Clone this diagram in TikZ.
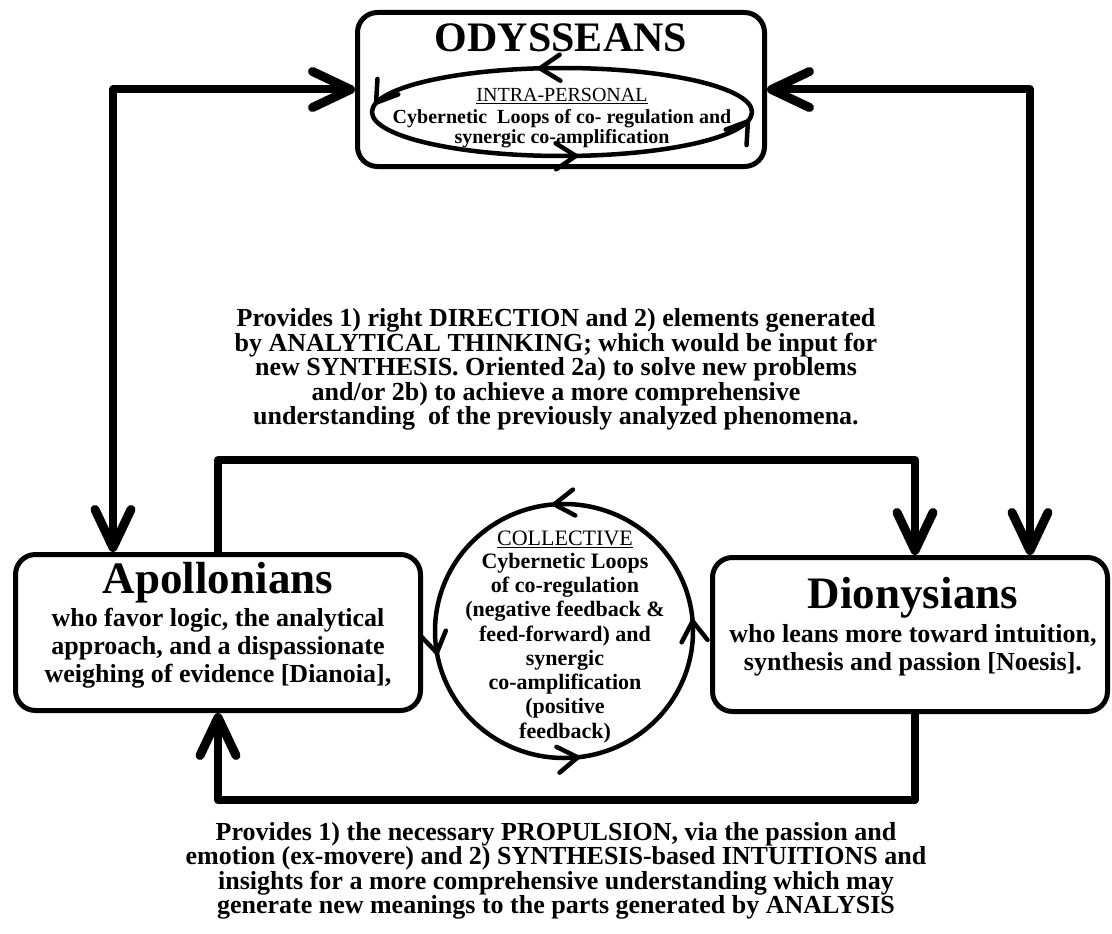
\documentclass[tikz,border=0pt]{standalone}
\usepackage{fontspec}
\setmainfont{Liberation Serif}
\usetikzlibrary{arrows.meta,decorations.markings,calc}
\tikzset{
  bigtip/.tip={Straight Barb[length=38pt,width=36pt,line width=9pt,round]},
  smalltip/.tip={Straight Barb[length=20pt,width=26pt,line width=4.5pt,round]},
}
\begin{document}
\begin{tikzpicture}[x=1pt,y=-1pt,
  box/.style={draw,line width=5pt,rounded corners=20pt,inner sep=0pt},
  conn/.style={line width=8pt,line join=round},
  loopline/.style={line width=4.5pt},
  txt/.style={inner sep=0pt,align=center},
  para/.style={txt,font=\fontsize{26pt}{24.5pt}\selectfont\bfseries},
]
\useasboundingbox (0,0) rectangle (1112,934);

% boxes
\node[box,minimum width=407pt,minimum height=154pt] (ody) at (561,89.5) {};
\node[box,minimum width=405pt,minimum height=156pt] (apo) at (218,632.5) {};
\node[box,minimum width=395pt,minimum height=154pt] (dio) at (910,634.5) {};

% connectors
\coordinate (cL) at (113,89.5);
\coordinate (cR) at (1030,89.5);
\coordinate (cT) at (915,460);
\coordinate (cB) at (915,800);
\draw[conn,bigtip-bigtip] (ody.west) -- (cL) -- (cL |- apo.north);
\draw[conn,bigtip-bigtip] (ody.east) -- (cR) -- (cR |- dio.north);
\draw[conn,-bigtip] (apo.north) -- (apo.north |- cT) -- (cT) -- (cT |- dio.north);
\draw[conn,-bigtip] (cB |- dio.south) -- (cB) -- (cB -| apo.south) -- (apo.south);

% intra-personal loop
\draw[loopline,postaction={decorate},decoration={markings,
  mark=at position 0.03 with {\arrow{smalltip}},
  mark=at position 0.24 with {\arrow{smalltip}},
  mark=at position 0.52 with {\arrow{smalltip}},
  mark=at position 0.74 with {\arrow{smalltip}}}]
  (562,68) arc[start angle=90,end angle=450,x radius=190pt,y radius=44pt];

% collective loop
\draw[loopline,postaction={decorate},decoration={markings,
  mark=at position 0.015 with {\arrow{smalltip}},
  mark=at position 0.28 with {\arrow{smalltip}},
  mark=at position 0.52 with {\arrow{smalltip}},
  mark=at position 0.765 with {\arrow{smalltip}}}]
  (564,504) arc[start angle=90,end angle=450,x radius=129pt,y radius=127pt];

% texts
\node[txt,font=\fontsize{42pt}{42pt}\selectfont\bfseries] (odyt) at (561,38) {ODYSSEANS};
\node[txt,font=\fontsize{20pt}{20pt}\selectfont] (intra) at (562,96) {\underline{INTRA-PERSONAL}};
\node[txt,font=\fontsize{20pt}{20pt}\selectfont\bfseries] (intrab) at (562,129)
  {Cybernetic\ \ Loops of co- regulation and\\synergic co-amplification};

\node[txt,font=\fontsize{45pt}{45pt}\selectfont\bfseries] (apot) at (218,583) {Apollonians};
\node[txt,font=\fontsize{26pt}{28pt}\selectfont\bfseries] (apob) at (218,648)
  {who favor logic, the analytical\\approach, and a dispassionate\\weighing of evidence [Dianoia],};

\node[txt,font=\fontsize{45pt}{45pt}\selectfont\bfseries] (diot) at (913,598) {Dionysians};
\node[txt,font=\fontsize{26pt}{28pt}\selectfont\bfseries] (diob) at (913,650)
  {who leans more toward intuition,\\synthesis and passion [Noesis].};

\node[txt,font=\fontsize{22pt}{24pt}\selectfont] (coll) at (565,539) {\underline{COLLECTIVE}};
\node[txt,font=\fontsize{22pt}{24.25pt}\selectfont\bfseries] (collb) at (565,648)
  {Cybernetic Loops\\of co-regulation\\(negative feedback \&\\feed-forward) and\\synergic\\co-amplification\\(positive\\feedback)};

\node[para] (top) at (556,369.5)
  {Provides 1) right DIRECTION and 2) elements generated\\by ANALYTICAL THINKING; which would be input for\\new SYNTHESIS. Oriented 2a) to solve new problems\\and/or 2b) to achieve a more comprehensive\\understanding\ \ of the previously analyzed phenomena.};

\node[para] (bot) at (556,871)
  {Provides 1) the necessary PROPULSION, via the passion and\\emotion (ex-movere) and 2) SYNTHESIS-based INTUITIONS and\\insights for a more comprehensive understanding which may\\generate new meanings to the parts generated by ANALYSIS};
\end{tikzpicture}
\end{document}
